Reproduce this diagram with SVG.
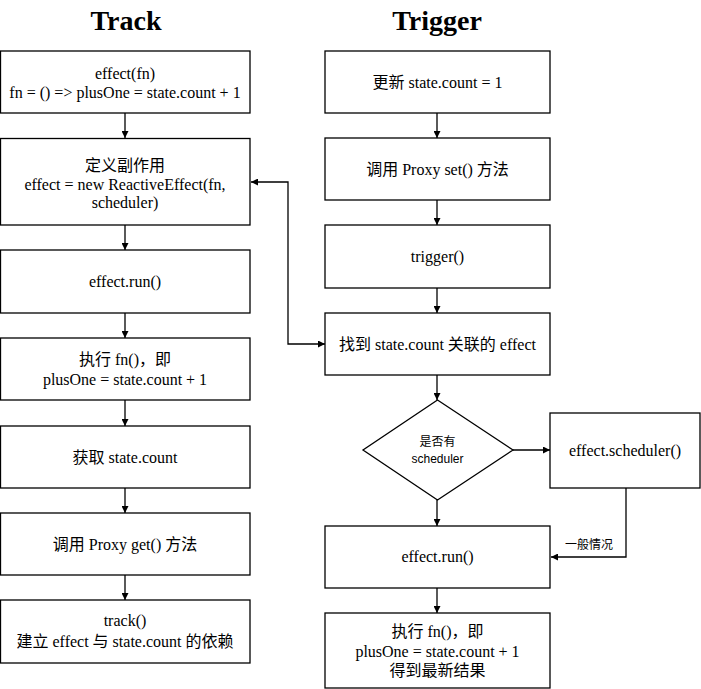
<svg xmlns="http://www.w3.org/2000/svg" width="701" height="689" viewBox="0 0 701 689">
<style>
.b{fill:#fff;stroke:#000;stroke-width:1.3}
.t{font-family:"Liberation Serif","Noto Sans CJK SC",serif;font-size:16px;fill:#000;text-anchor:middle;dominant-baseline:central}
.h{font-family:"Liberation Serif",serif;font-size:28px;font-weight:bold;fill:#000;text-anchor:middle}
.s{font-family:"Liberation Sans","Noto Sans CJK SC",sans-serif;font-size:12px;fill:#000;text-anchor:middle;dominant-baseline:central}
.c{fill:none;stroke:#000;stroke-width:1.3}
</style>
<defs>
<marker id="a" viewBox="0 0 10 10" refX="10" refY="5" markerWidth="7" markerHeight="7" markerUnits="userSpaceOnUse" orient="auto-start-reverse"><path d="M0,0 L10,5 L0,10 z" fill="#000"/></marker>
</defs>
<rect width="701" height="689" fill="#fff"/>
<text class="h" x="126" y="30">Track</text>
<text class="h" x="437" y="30">Trigger</text>

<g id="connectors">
<path class="c" marker-end="url(#a)" d="M125,113 V138"/>
<path class="c" marker-end="url(#a)" d="M125,225 V250"/>
<path class="c" marker-end="url(#a)" d="M125,313 V338"/>
<path class="c" marker-end="url(#a)" d="M125,400 V426"/>
<path class="c" marker-end="url(#a)" d="M125,488 V513"/>
<path class="c" marker-end="url(#a)" d="M125,575 V600"/>
<path class="c" marker-end="url(#a)" d="M437,113 V138"/>
<path class="c" marker-end="url(#a)" d="M437,200 V225"/>
<path class="c" marker-end="url(#a)" d="M437,288 V313"/>
<path class="c" marker-end="url(#a)" d="M437,375 V400"/>
<path class="c" marker-end="url(#a)" d="M437,500 V526"/>
<path class="c" marker-end="url(#a)" d="M437,588 V613"/>
<path class="c" marker-start="url(#a)" marker-end="url(#a)" d="M251,182 H288 V344 H325"/>
<path class="c" marker-end="url(#a)" d="M513,450 H550"/>
<path class="c" marker-end="url(#a)" d="M626,488 V557 H551"/>
<text class="s" x="589" y="543" style="font-family:'Noto Sans CJK SC',sans-serif">一般情况</text>
</g>

<g id="t1"><rect class="b" x="0.5" y="51" width="249.5" height="62"/><text class="t" x="125" y="73.5">effect(fn)</text><text class="t" x="125" y="92">fn = () =&gt; plusOne = state.count + 1</text></g>
<g id="t2"><rect class="b" x="0.5" y="138.5" width="249.5" height="86.5"/><text class="t" x="125" y="165">定义副作用</text><text class="t" x="125" y="184">effect = new ReactiveEffect(fn,</text><text class="t" x="125" y="202.5">scheduler)</text></g>
<g id="t3"><rect class="b" x="0.5" y="250" width="249.5" height="63"/><text class="t" x="125" y="281.5">effect.run()</text></g>
<g id="t4"><rect class="b" x="0.5" y="338" width="249.5" height="62"/><text class="t" x="125" y="359.5">执行 fn()，即</text><text class="t" x="125" y="379">plusOne = state.count + 1</text></g>
<g id="t5"><rect class="b" x="0.5" y="426" width="249.5" height="62"/><text class="t" x="125" y="457">获取 state.count</text></g>
<g id="t6"><rect class="b" x="0.5" y="513" width="249.5" height="62"/><text class="t" x="125" y="544">调用 Proxy get() 方法</text></g>
<g id="t7"><rect class="b" x="0.5" y="600" width="249.5" height="63"/><text class="t" x="125" y="620.5">track()</text><text class="t" x="125" y="641">建立 effect 与 state.count 的依赖</text></g>

<g id="r1"><rect class="b" x="325" y="51" width="225" height="62"/><text class="t" x="437.5" y="82">更新 state.count = 1</text></g>
<g id="r2"><rect class="b" x="325" y="138" width="225" height="62"/><text class="t" x="437.5" y="169">调用 Proxy set() 方法</text></g>
<g id="r3"><rect class="b" x="325" y="225" width="225" height="63"/><text class="t" x="437.5" y="256.5">trigger()</text></g>
<g id="r4"><rect class="b" x="325" y="313" width="225" height="62"/><text class="t" x="437.5" y="344">找到 state.count 关联的 effect</text></g>
<g id="d1"><path class="b" d="M437.5,400 L513,450 L437.5,500 L363,450 z"/><text class="s" x="437.5" y="442">是否有</text><text class="s" x="437.5" y="459">scheduler</text></g>
<g id="r5"><rect class="b" x="550" y="413" width="150" height="75"/><text class="t" x="625" y="450">effect.scheduler()</text></g>
<g id="r6"><rect class="b" x="325" y="526" width="225" height="62"/><text class="t" x="437.5" y="556">effect.run()</text></g>
<g id="r7"><rect class="b" x="325" y="613" width="225" height="75"/><text class="t" x="437.5" y="631.5">执行 fn()，即</text><text class="t" x="437.5" y="651">plusOne = state.count + 1</text><text class="t" x="437.5" y="670">得到最新结果</text></g>
</svg>
